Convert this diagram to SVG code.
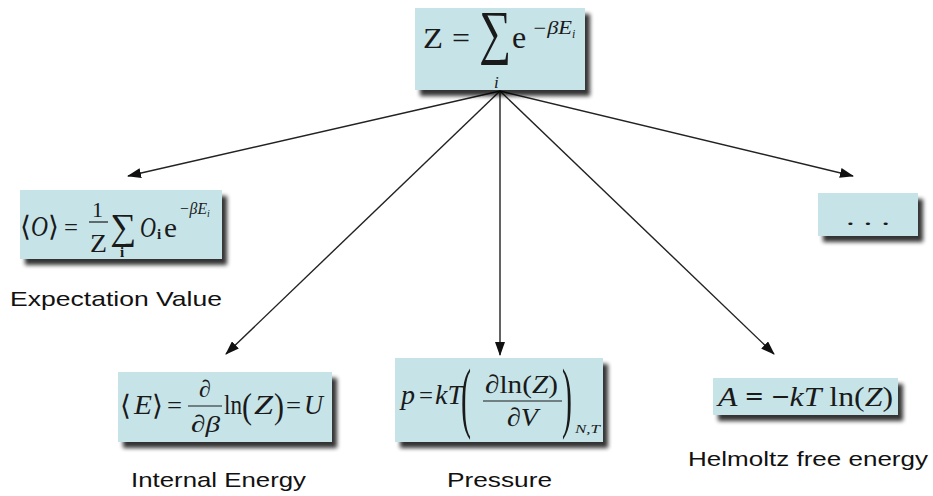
<svg xmlns="http://www.w3.org/2000/svg" width="933" height="496" viewBox="0 0 933 496">
<style>
.box{fill:#c6e4e8;filter:url(#sh);}
.m{font-family:"Liberation Serif","Times New Roman",serif;fill:#1a1a1a;}
.it{font-style:italic;}
.lbl{font-family:"Liberation Sans",Arial,sans-serif;font-size:21px;fill:#111;}
.c line{stroke:#222;stroke-width:1.4;marker-end:url(#ah);}
.bar{stroke:#1a1a1a;stroke-width:1.2;}
</style>
<defs>
<filter id="sh" x="-10%" y="-10%" width="130%" height="150%">
<feGaussianBlur in="SourceAlpha" stdDeviation="2.2"/>
<feOffset dx="5" dy="6" result="o"/>
<feComponentTransfer><feFuncA type="linear" slope="0.8"/></feComponentTransfer>
<feMerge><feMergeNode/><feMergeNode in="SourceGraphic"/></feMerge>
</filter>
<marker id="ah" viewBox="0 0 14 10" refX="13" refY="5" markerWidth="14" markerHeight="10" markerUnits="userSpaceOnUse" orient="auto">
<path d="M0,0 L14,5 L0,10 Z" fill="#111"/>
</marker>
</defs>
<rect width="933" height="496" fill="#fff"/>

<g class="c" id="connectors">
<line x1="500" y1="91" x2="128" y2="176"/>
<line x1="500" y1="91" x2="226" y2="354"/>
<line x1="500" y1="91" x2="500" y2="355"/>
<line x1="500" y1="91" x2="774" y2="354"/>
<line x1="500" y1="91" x2="853" y2="176"/>
</g>

<g id="partition">
<rect class="box" x="415" y="8" width="170" height="82"/>
<text class="m" x="423" y="48" font-size="30" textLength="20" lengthAdjust="spacingAndGlyphs">Z</text>
<text class="m" x="452" y="48" font-size="30" textLength="18" lengthAdjust="spacingAndGlyphs">=</text>
<text class="m" x="479" y="52" font-size="60" textLength="32" lengthAdjust="spacingAndGlyphs">∑</text>
<text class="m" x="512" y="48" font-size="32">e</text>
<text class="m it" x="532" y="34" font-size="18" textLength="40" lengthAdjust="spacingAndGlyphs">−βE</text>
<text class="m it" x="572" y="38" font-size="12">i</text>
<text class="m it" x="494" y="88" font-size="17">i</text>
</g>

<g id="expectation">
<rect class="box" x="20" y="190" width="202" height="69"/>
<text class="m" x="20" y="236" font-size="28" font-family="DejaVu Serif">⟨</text>
<text class="m it" x="31" y="236" font-size="30" textLength="17" lengthAdjust="spacingAndGlyphs">O</text>
<text class="m" x="48" y="236" font-size="28" font-family="DejaVu Serif">⟩</text>
<text class="m" x="64" y="236" font-size="26" textLength="14" lengthAdjust="spacingAndGlyphs">=</text>
<text class="m" x="92" y="217" font-size="22">1</text>
<line class="bar" x1="89" y1="222" x2="108" y2="222"/>
<text class="m" x="90" y="252" font-size="26" textLength="17" lengthAdjust="spacingAndGlyphs">Z</text>
<text class="m" x="110" y="239" font-size="37" textLength="26" lengthAdjust="spacingAndGlyphs">∑</text>
<text class="m" x="120" y="257" font-size="15" font-weight="bold">i</text>
<text class="m it" x="140" y="237" font-size="30" textLength="16" lengthAdjust="spacingAndGlyphs">O</text>
<text class="m" x="157" y="239" font-size="15" font-weight="bold">i</text>
<text class="m" x="164" y="237" font-size="28" textLength="13" lengthAdjust="spacingAndGlyphs">e</text>
<text class="m it" x="179" y="214" font-size="16" textLength="28" lengthAdjust="spacingAndGlyphs">−βE</text>
<text class="m it" x="207" y="217" font-size="10">i</text>
<text class="lbl" x="10" y="306" textLength="212" lengthAdjust="spacingAndGlyphs">Expectation Value</text>
</g>

<g id="internal">
<rect class="box" x="118" y="372" width="214" height="70"/>
<text class="m" x="120" y="415" font-size="28" font-family="DejaVu Serif">⟨</text>
<text class="m it" x="134" y="414" font-size="28" textLength="18" lengthAdjust="spacingAndGlyphs">E</text>
<text class="m" x="152" y="415" font-size="28" font-family="DejaVu Serif">⟩</text>
<text class="m" x="167" y="414" font-size="26" textLength="15" lengthAdjust="spacingAndGlyphs">=</text>
<text class="m it" x="199" y="397" font-size="24">∂</text>
<line class="bar" x1="188" y1="406" x2="222" y2="406"/>
<text class="m it" x="191" y="432" font-size="24" textLength="29" lengthAdjust="spacingAndGlyphs">∂β</text>
<text class="m" x="224" y="414" font-size="28" textLength="18" lengthAdjust="spacingAndGlyphs">ln</text>
<text class="m" x="0" y="0" font-size="30" transform="translate(242 418) scale(1 1.2)">(</text>
<text class="m it" x="254" y="414" font-size="28" textLength="19" lengthAdjust="spacingAndGlyphs">Z</text>
<text class="m" x="0" y="0" font-size="30" transform="translate(274 418) scale(1 1.2)">)</text>
<text class="m" x="286" y="414" font-size="26" textLength="15" lengthAdjust="spacingAndGlyphs">=</text>
<text class="m it" x="304" y="414" font-size="28" textLength="19" lengthAdjust="spacingAndGlyphs">U</text>
<text class="lbl" x="131" y="487" textLength="175" lengthAdjust="spacingAndGlyphs">Internal Energy</text>
</g>

<g id="pressure">
<rect class="box" x="395" y="358" width="208" height="84"/>
<text class="m it" x="401" y="404" font-size="28">p</text>
<text class="m" x="419" y="404" font-size="26" textLength="14" lengthAdjust="spacingAndGlyphs">=</text>
<text class="m it" x="435" y="404" font-size="28" textLength="28" lengthAdjust="spacingAndGlyphs">kT</text>
<text class="m" x="0" y="0" font-size="30" transform="translate(461 423) scale(1 2.6)">(</text>
<text class="m" x="485" y="393" font-size="26" textLength="73" lengthAdjust="spacingAndGlyphs">∂ln(<tspan font-style="italic">Z</tspan>)</text>
<line class="bar" x1="483" y1="401" x2="562" y2="401"/>
<text class="m" x="507" y="426" font-size="26" textLength="31" lengthAdjust="spacingAndGlyphs">∂<tspan font-style="italic">V</tspan></text>
<text class="m" x="0" y="0" font-size="30" transform="translate(562 423) scale(1 2.6)">)</text>
<text class="m it" x="575" y="433" font-size="13" textLength="25" lengthAdjust="spacingAndGlyphs">N,T</text>
<text class="lbl" x="447" y="487" textLength="105" lengthAdjust="spacingAndGlyphs">Pressure</text>
</g>

<g id="helmholtz">
<rect class="box" x="713" y="378" width="185" height="37"/>
<text class="m" x="718" y="406" font-size="27" textLength="175" lengthAdjust="spacingAndGlyphs"><tspan font-style="italic">A</tspan> <tspan font-weight="bold">=</tspan> <tspan font-weight="bold">−</tspan><tspan font-style="italic">kT</tspan> ln(<tspan font-style="italic">Z</tspan>)</text>
<text class="lbl" x="688" y="466" textLength="240" lengthAdjust="spacingAndGlyphs">Helmoltz free energy</text>
</g>

<g id="more">
<rect class="box" x="818" y="193" width="100" height="43"/>
<text class="m" x="846" y="225" font-size="22" textLength="44" lengthAdjust="spacingAndGlyphs">. . .</text>
</g>
</svg>
